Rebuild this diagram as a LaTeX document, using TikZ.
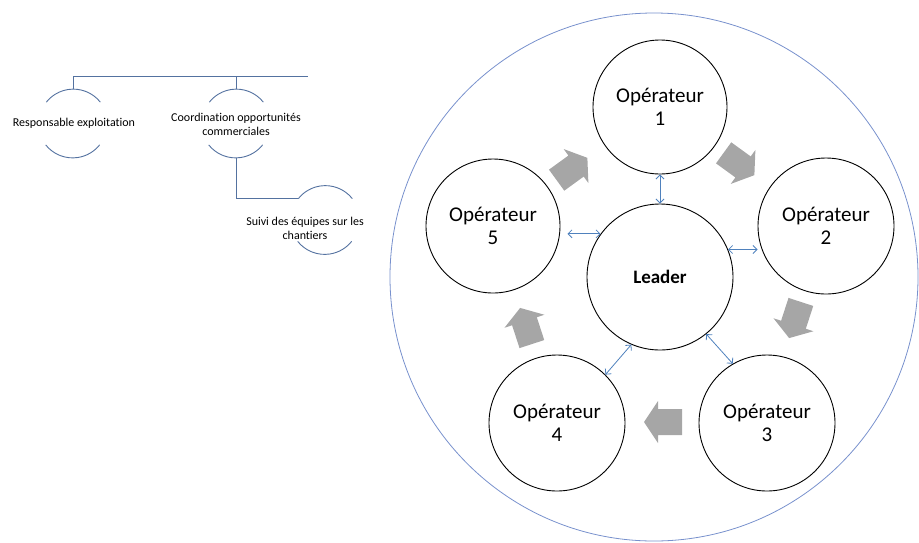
\documentclass[tikz,border=0pt]{standalone}
\usepackage{fontspec}
\setmainfont{Carlito}[Ligatures=NoCommon]
\usetikzlibrary{arrows.meta}
\definecolor{bigblue}{RGB}{120,145,205}
\definecolor{arrblue}{RGB}{79,129,189}
\definecolor{orgblue}{RGB}{84,114,160}
\definecolor{blockgray}{RGB}{166,166,166}
\begin{document}
\begin{tikzpicture}[x=1pt,y=-1pt,
  op/.style={circle,draw=black,line width=0.9pt,fill=white,minimum size=136pt,inner sep=0pt,align=center,font=\fontsize{21}{23}\selectfont},
  dbl/.style={draw=arrblue,line width=0.8pt,{Straight Barb[length=4pt,width=8pt]}-{Straight Barb[length=4pt,width=8pt]}},
  org/.style={draw=orgblue,line width=0.9pt},
  orgring/.style={circle,draw=none,minimum size=69pt,inner sep=0pt},
  orgtext/.style={font=\fontsize{12}{14}\selectfont,align=center,inner sep=0pt},
  blockarrow/.pic={\fill[blockgray] (-19,-13) -- (5,-13) -- (5,-21) -- (19,0) -- (5,21) -- (5,13) -- (-19,13) -- cycle;}]
\useasboundingbox (0,0) rectangle (919,542);
% ---------------- left: org chart fragment
\coordinate (b0) at (73,76);
\coordinate (b1) at (236,76);
\coordinate (b2) at (308,76);
\node[orgring] (r1) at (73,123.5) {};
\node[orgring] (r2) at (236,123.5) {};
\node[orgring] (r3) at (325,220) {};
\draw[org] (b0) -- (b2);
\draw[org] (b0) -- (r1.north);
\draw[org] (b1) -- (r2.north);
\draw[org] (r2.south) |- (r3.141.5);
\foreach \r in {r1,r2,r3}{
  \draw[org] (\r.38.5) arc[start angle=-38.5,end angle=-141.5,radius=34.5];
  \draw[org] (\r.218.5) arc[start angle=-218.5,end angle=-321.5,radius=34.5];
}
\node[orgtext] (t1) at (74,123.5) {Responsable exploitation};
\node[orgtext] (t2) at (236,124) {Coordination opportunités\\commerciales};
\node[orgtext] (t3) at (305,228) {Suivi des équipes sur les\\chantiers};
% ---------------- right: team
\node[circle,draw=bigblue,line width=0.8pt,minimum size=528pt,inner sep=0pt] (team) at (654,277) {};
\node[op,minimum size=146pt,font=\fontsize{19}{21}\selectfont\bfseries] (L) at (660,277) {Leader};
\node[op,minimum size=134pt] (O1) at (660,107) {Opérateur\\1};
\node[op] (O2) at (826,226) {Opérateur\\2};
\node[op] (O3) at (767,423) {Opérateur\\3};
\node[op] (O4) at (557,423) {Opérateur\\4};
\node[op,minimum size=134pt] (O5) at (493,226) {Opérateur\\5};
\draw[dbl] (O1.south) -- (L.north);
\draw[dbl] (L.22) -- (L.22 -| O2.west);
\draw[dbl] (L.-51) -- (O3.120);
\draw[dbl] (L.-113) -- (O4.45);
\draw[dbl,shorten >=7pt] (L.144) -- (L.144 -| O5.east);
\pic[rotate=-36] at (739,164) {blockarrow};
\pic[rotate=-108] at (795,320) {blockarrow};
\pic[rotate=180] at (663,422) {blockarrow};
\pic[rotate=108] at (526,326) {blockarrow};
\pic[rotate=36] at (572,169) {blockarrow};
\end{tikzpicture}
\end{document}
